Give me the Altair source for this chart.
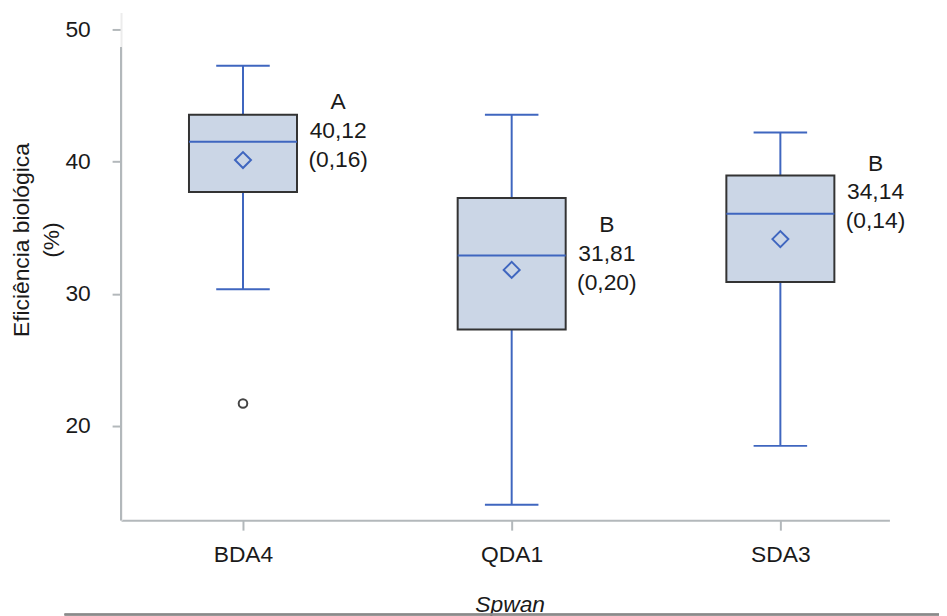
import altair as alt
import pandas as pd

# ---- data ----
categories = ["BDA4", "QDA1", "SDA3"]
positions = [0, 1, 2]
whisker_low = [30.35, 14.05, 18.5]
q1 = [37.7, 27.3, 30.9]
median = [41.5, 32.9, 36.05]
q3 = [43.55, 37.25, 38.95]
whisker_high = [47.25, 43.55, 42.2]
mean = [40.12, 31.81, 34.14]
letters = ["A", "B", "B"]
mean_labels = ["40,12", "31,81", "34,14"]
se_labels = ["(0,16)", "(0,20)", "(0,14)"]
label_y = [44.5, 35.2, 39.85]
outlier_pos = [0]
outlier_val = [21.7]
y_ticks = [20, 30, 40, 50]

# ---- styles ----
FONT = "Liberation Sans"
FS = 23
BLUE = "#3f66bf"
BOX_FILL = "#cbd6e6"
BOX_STROKE = "#333333"
AXIS_GRAY = "#b3b8bb"
TEXT = "#1a1a1a"
BOX_HALF = 0.201
CAP_HALF = 0.0996
W, H = 775, 512

df = pd.DataFrame({
    "pos": positions, "cat": categories, "lo": whisker_low, "q1": q1,
    "median": median, "q3": q3, "hi": whisker_high, "mean": mean,
    "letter": letters, "m": mean_labels, "se": se_labels, "ly": label_y,
})
out_df = pd.DataFrame({"pos": outlier_pos, "val": outlier_val})

xscale = alt.Scale(domain=[-0.4539, 2.4059], nice=False, zero=False)
yscale = alt.Scale(domain=[12.875, 51.275], nice=False, zero=False)

label_expr = "[" + ",".join("'%s'" % c for c in categories) + "][datum.value]"

xaxis = alt.Axis(values=positions, labelExpr=label_expr, grid=False,
                 tickSize=10, tickWidth=2, tickColor=AXIS_GRAY,
                 domainColor=AXIS_GRAY, domainWidth=2,
                 labelFont=FONT, labelFontSize=FS, labelColor=TEXT, labelPadding=14,
                 title="Spwan", titleFont=FONT, titleFontSize=FS, titleFontStyle="italic",
                 titleFontWeight="normal", titleColor=TEXT,
                 titleX=392, titleY=92, titleAlign="center", titleBaseline="alphabetic")
yaxis = alt.Axis(values=y_ticks, grid=False, tickSize=9, tickWidth=2, tickColor=AXIS_GRAY,
                 domainColor="#ececec", domainWidth=2,
                 labelFont=FONT, labelFontSize=FS, labelColor=TEXT, labelPadding=22,
                 title=["Eficiência biológica", "(%)"], titleFont=FONT, titleFontSize=FS,
                 titleFontWeight="normal", titleColor=TEXT, titleAngle=270,
                 titleX=-111, titleY=229, titleAlign="center", titleBaseline="top",
                 titleLineHeight=30)

base = alt.Chart(df).transform_calculate(
    bl=f"datum.pos - {BOX_HALF}", br=f"datum.pos + {BOX_HALF}",
    cl=f"datum.pos - {CAP_HALF}", cr=f"datum.pos + {CAP_HALF}",
    lab="datum.letter + '\\n' + datum.m + '\\n' + datum.se",
)

X = alt.X("pos:Q", scale=xscale, axis=xaxis)

whisk_low = base.mark_rule(color=BLUE, strokeWidth=2).encode(
    x=X, y=alt.Y("lo:Q", scale=yscale, axis=yaxis), y2="q1:Q")
whisk_high = base.mark_rule(color=BLUE, strokeWidth=2).encode(
    x="pos:Q", y="q3:Q", y2="hi:Q")
cap_low = base.mark_rule(color=BLUE, strokeWidth=2).encode(
    x="cl:Q", x2="cr:Q", y="lo:Q")
cap_high = base.mark_rule(color=BLUE, strokeWidth=2).encode(
    x="cl:Q", x2="cr:Q", y="hi:Q")
box = base.mark_rect(fill=BOX_FILL, stroke=BOX_STROKE, strokeWidth=2).encode(
    x="bl:Q", x2="br:Q", y="q1:Q", y2="q3:Q")
med = base.mark_rule(color=BLUE, strokeWidth=2).encode(
    x="bl:Q", x2="br:Q", y="median:Q")
mean_pt = base.mark_point(shape="diamond", size=260, filled=False, color=BLUE,
                          strokeWidth=2, opacity=1).encode(x="pos:Q", y="mean:Q")
labels = base.mark_text(lineBreak="\n", align="center", baseline="middle", dx=96,
                        font=FONT, fontSize=FS, lineHeight=29, color=TEXT).encode(
    x="pos:Q", y="ly:Q", text="lab:N")
outl = alt.Chart(out_df).mark_point(shape="circle", size=75, filled=False,
                                    color="#444444", strokeWidth=2, opacity=1).encode(
    x="pos:Q", y="val:Q")

# axis decorations: darker y-axis line part and bottom separator
yline = alt.Chart(df).mark_rule(color=AXIS_GRAY, strokeWidth=2).encode(
    x=alt.value(0), y=alt.value(35), y2=alt.value(H))
sep = alt.Chart(df).mark_rule(color="#8a8a8a", strokeWidth=2).encode(
    x=alt.value(-57), x2=alt.value(840), y=alt.value(607))

chart = alt.layer(
    whisk_low, whisk_high, cap_low, cap_high, box, med, mean_pt, outl, labels, yline, sep
).properties(
    width=W, height=H,
    autosize=alt.AutoSizeParams(type="none"),
    padding={"left": 114, "top": 2, "right": 50, "bottom": 98},
).configure(background="white").configure_view(stroke=None, strokeWidth=0)

chart.save("out.html", embed_options={"renderer": "svg", "actions": False})
